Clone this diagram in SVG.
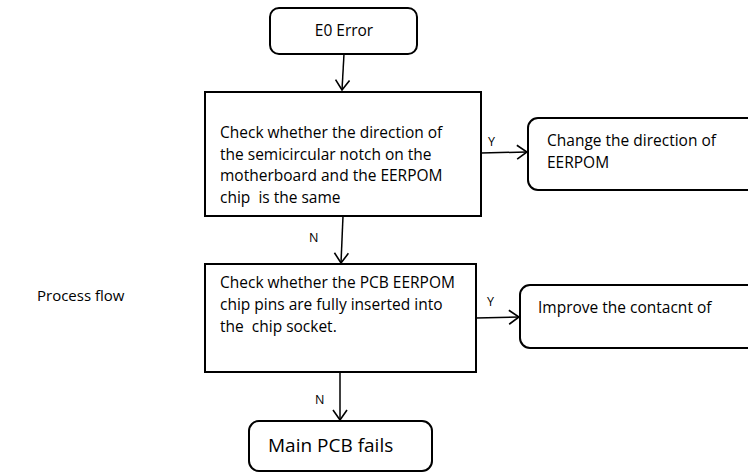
<svg xmlns="http://www.w3.org/2000/svg" width="748" height="472" viewBox="0 0 748 472">
<style>
.box{fill:#fff;stroke:#000;stroke-width:2}
.t{font-family:"Open Sans","Liberation Sans",sans-serif;font-size:15.5px;fill:#000;white-space:pre}
.s{font-family:"Open Sans","Liberation Sans",sans-serif;font-size:12.5px;fill:#000}
.c{stroke:#000;stroke-width:1.5;fill:none}
</style>
<defs>
<marker id="a" viewBox="0 0 12 16" refX="11" refY="8" markerWidth="12" markerHeight="16" markerUnits="userSpaceOnUse" orient="auto">
<path d="M1,1 L11,8 L1,15" fill="none" stroke="#000" stroke-width="1.6"/>
</marker>
</defs>
<rect width="748" height="472" fill="#fff"/>
<text class="t" x="37" y="301" style="font-size:15px">Process flow</text>
<g id="connectors">
<path class="c" d="M344,54 L342,90" marker-end="url(#a)"/>
<path class="c" d="M343,216 L341,263" marker-end="url(#a)"/>
<path class="c" d="M340,372 L340,420" marker-end="url(#a)"/>
<path class="c" d="M481,153 L527,152" marker-end="url(#a)"/>
<path class="c" d="M476,318 L519,317" marker-end="url(#a)"/>
<text class="s" x="309" y="242">N</text>
<text class="s" x="315" y="404">N</text>
<text class="s" x="488" y="146">Y</text>
<text class="s" x="487" y="306">Y</text>
</g>
<g id="n1">
<rect class="box" x="270" y="8" width="147" height="46" rx="9"/>
<text class="t" x="344" y="36" text-anchor="middle">E0 Error</text>
</g>
<g id="n2">
<rect class="box" x="205" y="92" width="276" height="124"/>
<text class="t" x="220" y="138">Check whether the direction of</text>
<text class="t" x="220" y="160">the semicircular notch on the</text>
<text class="t" x="220" y="181">motherboard and the EERPOM</text>
<text class="t" x="220" y="203">chip  is the same</text>
</g>
<g id="n3">
<rect class="box" x="528" y="118" width="230" height="72" rx="10"/>
<text class="t" x="547" y="146">Change the direction of</text>
<text class="t" x="547" y="168">EERPOM</text>
</g>
<g id="n4">
<rect class="box" x="205" y="264" width="271" height="108"/>
<text class="t" x="220" y="288">Check whether the PCB EERPOM</text>
<text class="t" x="220" y="310">chip pins are fully inserted into</text>
<text class="t" x="220" y="332">the  chip socket.</text>
</g>
<g id="n5">
<rect class="box" x="520" y="285" width="238" height="63" rx="10"/>
<text class="t" x="538" y="313">Improve the contacnt of</text>
</g>
<g id="n6">
<rect class="box" x="249" y="421" width="183" height="50" rx="10"/>
<text class="t" x="268" y="452" style="font-size:19px">Main PCB fails</text>
</g>
</svg>
